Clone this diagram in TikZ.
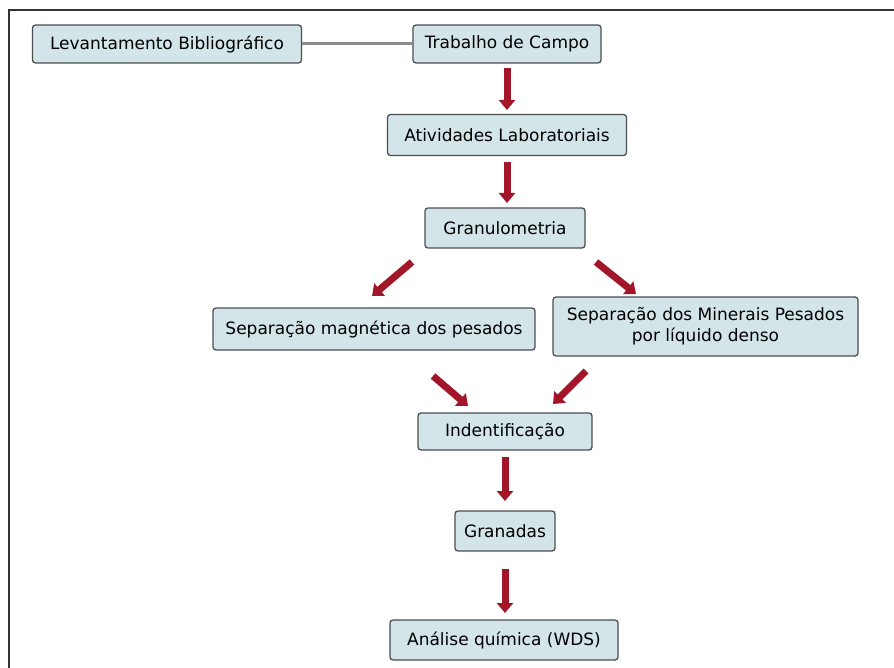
\documentclass[tikz,border=0pt]{standalone}
\usepackage{fontspec}
\setmainfont{DejaVu Sans}
\usetikzlibrary{arrows.meta}
\definecolor{boxfill}{HTML}{D3E5E8}
\definecolor{boxline}{HTML}{4A4F52}
\definecolor{arrred}{HTML}{A3162A}
\tikzset{
  box/.style={draw=boxline, line width=1.3pt, fill=boxfill, rounded corners=3pt,
    inner sep=0pt, align=center, font=\fontsize{17}{21}\selectfont},
  redarrow/.style={draw=arrred, line width=7pt,
    -{Triangle[width=16pt,length=10pt]}, arrred},
}
\begin{document}
\begin{tikzpicture}[x=1pt,y=-1pt]
\useasboundingbox (0,0) rectangle (894,668);
\fill[white] (0,0) rectangle (894,668);
\draw[line width=2.5pt, draw=black!80] (9,668) -- (9,10) -- (894,10);
\node[box, minimum width=269pt, minimum height=38pt] (lev) at (167,44) {Levantamento Bibliográfico};
\node[box, minimum width=188pt, minimum height=38pt] (tra) at (507,44) {Trabalho de Campo};
\node[box, minimum width=239pt, minimum height=41pt] (ati) at (507,135) {Atividades Laboratoriais};
\node[box, minimum width=160pt, minimum height=40pt] (gra) at (505,228) {Granulometria};
\node[box, minimum width=322pt, minimum height=42pt] (mag) at (374,329) {Separação magnética dos pesados};
\node[box, minimum width=305pt, minimum height=59pt] (den) at (705.5,326.5) {Separação dos Minerais Pesados\\por líquido denso};
\node[box, minimum width=174pt, minimum height=37pt] (ind) at (505,431.5) {Indentificação};
\node[box, minimum width=100pt, minimum height=40pt] (gran) at (505,531) {Granadas};
\node[box, minimum width=228pt, minimum height=40pt] (ana) at (504,640) {Análise química (WDS)};
\coordinate (a1s) at (507,68);  \coordinate (a1e) at (507,110);
\coordinate (a2s) at (507,162); \coordinate (a2e) at (507,203);
\coordinate (a3s) at (412,262); \coordinate (a3e) at (372,296);
\coordinate (a4s) at (596,262); \coordinate (a4e) at (636,294);
\coordinate (a5s) at (433,376); \coordinate (a5e) at (468,406);
\coordinate (a6s) at (586,371); \coordinate (a6e) at (553,404);
\coordinate (a7s) at (505,457); \coordinate (a7e) at (505,501);
\coordinate (a8s) at (505,569); \coordinate (a8e) at (505,613);
\draw[line width=3pt, draw=black!45] (lev.east) -- (tra.west);
\foreach \i in {1,...,8} {\draw[redarrow] (a\i s) -- (a\i e);}
\end{tikzpicture}
\end{document}
